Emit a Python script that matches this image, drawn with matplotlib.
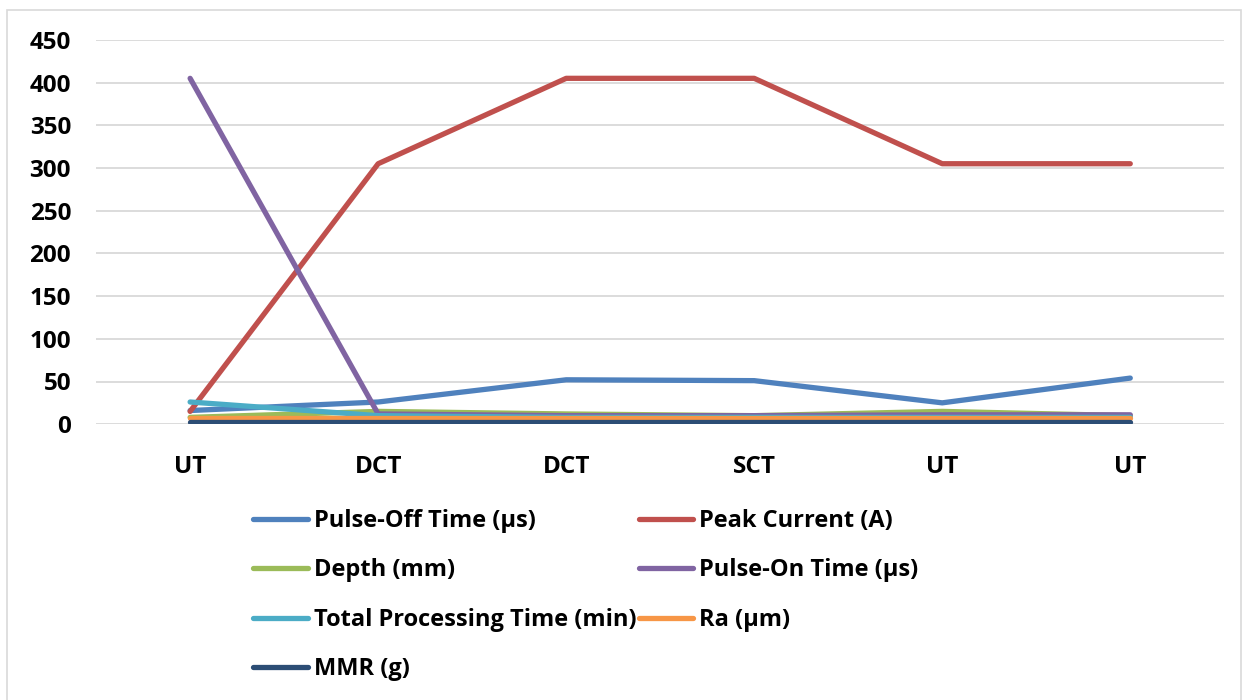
import matplotlib.pyplot as plt
from matplotlib.patches import Rectangle

categories = ['UT', 'DCT', 'DCT', 'SCT', 'UT', 'UT']

pulse_off = [16, 26, 52, 51, 25, 54]
peak_current = [15, 305, 405, 405, 305, 305]
depth = [8, 15, 12, 10, 15, 10]
pulse_on = [405, 12, 10, 10, 11, 11]
total_time = [26, 10, 8, 8, 8, 8]
ra = [7, 7, 7, 7, 7, 7]
mmr = [2, 2, 2, 2, 2, 2]

series = [
    ('Pulse-Off Time (µs)', pulse_off, '#4F81BD'),
    ('Peak Current (A)', peak_current, '#C0504D'),
    ('Depth (mm)', depth, '#9BBB59'),
    ('Pulse-On Time (µs)', pulse_on, '#8064A2'),
    ('Total Processing Time (min)', total_time, '#4BACC6'),
    ('Ra (µm)', ra, '#F79646'),
    ('MMR (g)', mmr, '#2C4D75'),
]

plt.rcParams['font.family'] = ['Open Sans', 'DejaVu Sans']
plt.rcParams['font.weight'] = 'bold'

fig = plt.figure(figsize=(12.48, 7), dpi=100)
fig.patches.append(Rectangle((0.006, -0.01), 0.988, 0.996, transform=fig.transFigure,
                             fill=False, edgecolor='#D9D9D9', linewidth=1.2))
ax = fig.add_axes([0.077, 0.394, 0.904, 0.549])

x = range(len(categories))
handles = {}
for name, vals, col in series:
    h, = ax.plot(x, vals, color=col, linewidth=3.8, solid_capstyle='round', label=name)
    handles[name] = h

ax.set_xlim(-0.5, len(categories) - 0.5)
ax.set_ylim(0, 450)
ax.set_yticks(range(0, 451, 50))
ax.set_xticks(list(x))
ax.set_xticklabels(categories, fontweight='bold')
ax.set_yticklabels([str(v) for v in range(0, 451, 50)], fontweight='bold')
ax.tick_params(axis='both', length=0, labelsize=17.5)
ax.tick_params(axis='x', pad=22)
ax.tick_params(axis='y', pad=18)
ax.grid(axis='y', color='#D9D9D9', linewidth=1.3)
ax.set_axisbelow(True)
for s in ax.spines.values():
    s.set_visible(False)

# legend fills column-wise, so reorder to get the row order
order = ['Pulse-Off Time (µs)', 'Depth (mm)', 'Total Processing Time (min)', 'MMR (g)',
         'Peak Current (A)', 'Pulse-On Time (µs)', 'Ra (µm)']
fig.legend([handles[n] for n in order], order, ncol=2, loc='upper left',
           bbox_to_anchor=(0.1936, 0.29), frameon=False, borderpad=0,
           prop={'size': 17, 'weight': 'bold'},
           handlelength=2.3, handletextpad=0.25, labelspacing=1.08, columnspacing=0.1)

fig.savefig('out.png', dpi=100)
